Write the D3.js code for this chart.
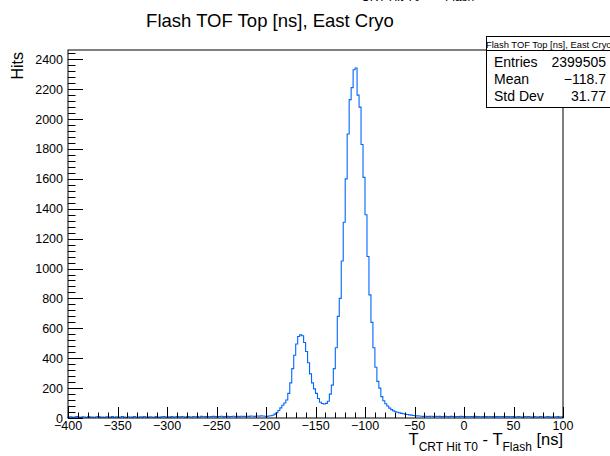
<!DOCTYPE html>
<head>
  <meta charset="utf-8">
  <title>Flash TOF Top [ns], East Cryo</title>
  <style>
    body { margin: 0; background: #fff; }
    text { font-family: "Liberation Sans", Arial, Helvetica, sans-serif; white-space: pre; }
  </style>
</head>
<body>
<script src="https://cdn.jsdelivr.net/npm/d3@7"></script>
<script>

    // histogram: 2 ns bins from -400 to 100
    var binStart = -400,
        binWidth = 2;

    // -400 .. -202
    var countsFlat = [6,8,5,7,9,6,4,8,7,5, 9,6,7,5,8,10,6,7,5,8, 7,6,9,5,8,6,7,10,6,5,
                      8,7,6,9,7,5,8,6,10,7, 6,8,7,5,9,7,6,8,10,7, 8,6,9,7,8,10,7,9,8,6,
                      9,8,7,10,8,9,7,11,8,9, 10,8,9,11,9,8,10,12,9,10, 11,9,10,12,10,11,9,12,11,10,
                      12,11,13,12,11,13,12,14,13,12];
    // -200 .. -50
    var countsPeaks = [11,13,15,18,26,35,50,68,85,100,
                       120,165,235,330,420,495,545,556,550,505,
                       445,370,295,235,195,165,130,105,97,94,
                       98,112,160,220,330,470,680,800,1050,1310,
                       1600,1900,2130,2210,2330,2342,2160,2080,1830,1610,
                       1360,1080,824,640,470,340,245,200,143,115,
                       95,80,66,56,48,42,38,34,31,28,
                       25,23,21,19,17,15];
    // -48 .. 98
    var countsTail = [14,13,12,11,12,10,11,12,10,11, 10,11,9,10,11,10,9,11,10,9,
                      10,9,11,10,9,10,8,10,9,11, 9,10,8,9,10,9,8,10,9,8,
                      9,10,8,9,8,10,9,8,9,7, 8,9,8,7,9,8,10,8,7,9,
                      8,7,9,8,7,8,9,7,8,7, 8,9,7,8];

    var counts = countsFlat.concat(countsPeaks, countsTail);

    var xTicks = d3.range(-400, 101, 50),
        yTicks = d3.range(0, 2401, 200);

    var statNames = ["Entries", "Mean", "Std Dev"],
        statValues = ["2399505", "\u2212118.7", "31.77"];

    var margin = { top: 50, right: 47, bottom: 38, left: 68 },
        width = 610 - margin.left - margin.right,
        height = 456 - margin.top - margin.bottom;

    var x = d3.scaleLinear().domain([-400, 100]).range([0, width]);
    var y = d3.scaleLinear().domain([0, 2462]).range([height, 0]);

    var svg = d3.select("body").append("svg")
        .attr("width", 610)
        .attr("height", 456);

    // leftover of the x title at the very top (cut by the canvas)
    var cut = svg.append("text")
        .attr("x", 351)
        .attr("y", -5)
        .style("font-size", "16.5px");
    cut.append("tspan").text("T");
    cut.append("tspan").attr("dy", 6).style("font-size", "12px").text("CRT Hit T0");
    cut.append("tspan").attr("dy", -6).text(" - T");
    cut.append("tspan").attr("dy", 6).style("font-size", "12px").text("Flash");

    // title
    svg.append("text")
        .attr("x", 270)
        .attr("y", 26.5)
        .style("text-anchor", "middle")
        .style("font-size", "18.5px")
        .text("Flash TOF Top [ns], East Cryo");

    var g = svg.append("g")
        .attr("transform", "translate(" + margin.left + "," + margin.top + ")");

    // histogram outline
    var pts = [[x(binStart), y(0)]];
    counts.forEach(function(c, i) {
        var x0 = x(binStart + i * binWidth),
            x1 = x(binStart + (i + 1) * binWidth);
        pts.push([x0, y(c)]);
        pts.push([x1, y(c)]);
    });
    pts.push([x(binStart + counts.length * binWidth), y(0)]);

    g.append("path")
        .datum(pts)
        .attr("fill", "none")
        .attr("stroke", "#0066ff")
        .attr("stroke-width", 1.1)
        .attr("d", d3.line());

    // frame
    g.append("rect")
        .attr("x", 0)
        .attr("y", 0)
        .attr("width", width)
        .attr("height", height)
        .attr("fill", "none")
        .attr("stroke", "#000")
        .attr("stroke-width", 1);

    // x ticks (inside, upward)
    g.selectAll(".xminor")
        .data(d3.range(-400, 101, 10))
        .enter().append("line")
        .attr("x1", function(d) { return Math.round(x(d)) + 0.5; })
        .attr("x2", function(d) { return Math.round(x(d)) + 0.5; })
        .attr("y1", height)
        .attr("y2", function(d) { return xTicks.indexOf(d) >= 0 ? height - 11 : height - 5.5; })
        .attr("stroke", "#000");

    g.selectAll(".xlab")
        .data(xTicks)
        .enter().append("text")
        .attr("x", function(d) { return x(d); })
        .attr("y", height + 12)
        .style("text-anchor", "middle")
        .style("font-size", "12.5px")
        .text(function(d) { return d3.format("d")(d); });

    // y ticks (inside, rightward)
    g.selectAll(".yminor")
        .data(d3.range(0, 2461, 40))
        .enter().append("line")
        .attr("y1", function(d) { return Math.round(y(d)) + 0.5; })
        .attr("y2", function(d) { return Math.round(y(d)) + 0.5; })
        .attr("x1", 0)
        .attr("x2", function(d) { return yTicks.indexOf(d) >= 0 ? 15 : 7.5; })
        .attr("stroke", "#000");

    g.selectAll(".ylab")
        .data(yTicks)
        .enter().append("text")
        .attr("x", -5)
        .attr("y", function(d) { return y(d) + 4.5; })
        .style("text-anchor", "end")
        .style("font-size", "12.5px")
        .text(function(d) { return d; });

    // axis titles
    var xt = svg.append("text")
        .attr("x", 563)
        .attr("y", 445)
        .style("text-anchor", "end")
        .style("font-size", "16.5px");
    xt.append("tspan").text("T");
    xt.append("tspan").attr("dy", 6).style("font-size", "12px").text("CRT Hit T0");
    xt.append("tspan").attr("dy", -6).text(" - T");
    xt.append("tspan").attr("dy", 6).style("font-size", "12px").text("Flash");
    xt.append("tspan").attr("dy", -6).text(" [ns]");

    svg.append("text")
        .attr("transform", "translate(23,52) rotate(-90)")
        .style("text-anchor", "end")
        .style("font-size", "16px")
        .text("Hits");

    // stats box
    var box = svg.append("g");
    box.append("rect")
        .attr("x", 486.5)
        .attr("y", 36.5)
        .attr("width", 130)
        .attr("height", 71)
        .attr("fill", "#fff")
        .attr("stroke", "#000");
    box.append("line")
        .attr("x1", 486.5).attr("x2", 616)
        .attr("y1", 50.5).attr("y2", 50.5)
        .attr("stroke", "#000");
    box.append("text")
        .attr("x", 486)
        .attr("y", 47.5)
        .style("font-size", "9.4px")
        .text("Flash TOF Top [ns], East Cryo");

    box.selectAll(".sname")
        .data(statNames)
        .enter().append("text")
        .attr("x", 494)
        .attr("y", function(d, i) { return 67 + i * 17; })
        .style("font-size", "14px")
        .text(function(d) { return d; });

    box.selectAll(".sval")
        .data(statValues)
        .enter().append("text")
        .attr("x", 606)
        .attr("y", function(d, i) { return 67 + i * 17; })
        .style("text-anchor", "end")
        .style("font-size", "14px")
        .text(function(d) { return d; });

</script>
</body>
